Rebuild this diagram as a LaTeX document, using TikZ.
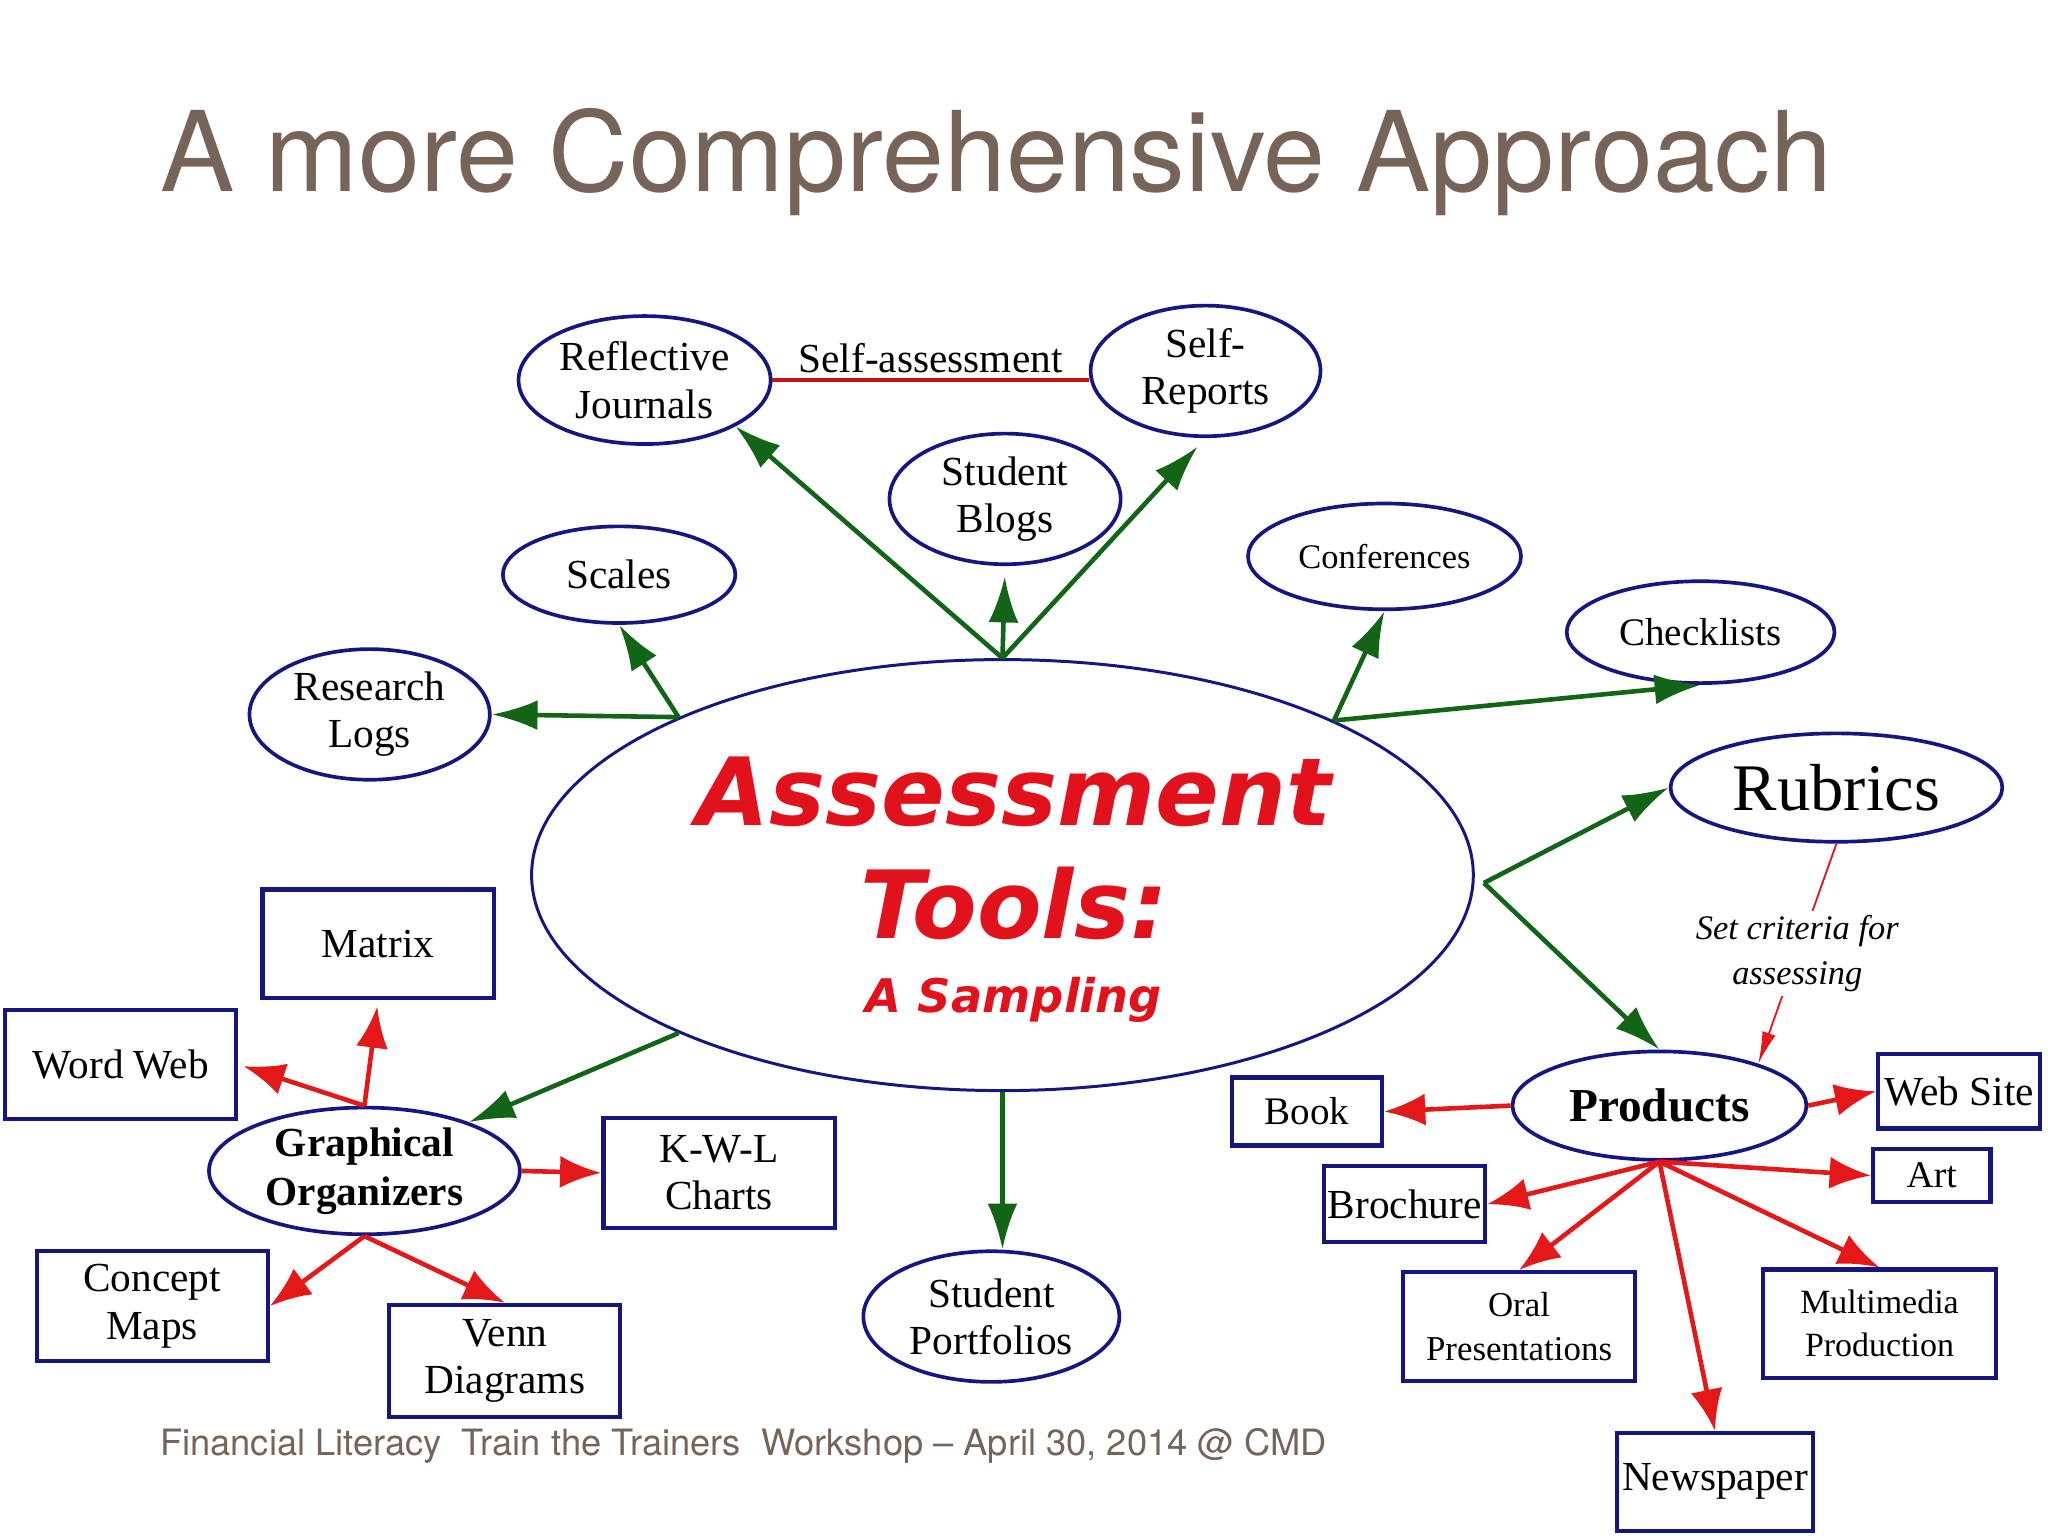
\documentclass[tikz,border=0pt]{standalone}
\usepackage{fontspec}
\setmainfont{Liberation Serif}
\newfontfamily\slidefont[Ligatures=TeX]{TeX Gyre Heros}
\newfontfamily\toolfont{DejaVu Sans}
\usetikzlibrary{shapes.geometric,arrows.meta}
\definecolor{ovalblue}{RGB}{22,22,130}
\definecolor{leafgreen}{RGB}{18,100,22}
\definecolor{arrowred}{RGB}{228,24,24}
\definecolor{slidebrown}{RGB}{118,100,88}
\definecolor{toolred}{RGB}{226,18,28}
\begin{document}
\begin{tikzpicture}[
    oval/.style={ellipse, draw=ovalblue, line width=0.8pt, inner sep=0pt, align=center, font=\fontsize{9}{10.3}\selectfont},
    box/.style={rectangle, draw=ovalblue, line width=0.9pt, inner sep=0pt, align=center, font=\fontsize{9}{10.3}\selectfont},
    grarrow/.style={draw=leafgreen, line width=1pt, -{Latex[length=10pt,width=6.5pt]}},
    rdarrow/.style={draw=arrowred, line width=1pt, -{Latex[length=9pt,width=7pt]}}
  ]
  \useasboundingbox (0,0) rectangle (15.68,-11.76);

  \node[anchor=base west, inner sep=0pt, text=slidebrown, font=\slidefont\fontsize{24.25}{28}\selectfont] (title) at (1.22,-1.47) {A more Comprehensive Approach};

  \node[ellipse, draw=ovalblue, line width=0.65pt, minimum width=7.21cm, minimum height=3.30cm, inner sep=0pt, align=center, text=toolred, font=\toolfont\bfseries\itshape\fontsize{20.5}{24.5}\selectfont] (main) at (7.675,-6.70)
    {\hspace{5pt}\rule{0pt}{21.3pt}Assessment\\\hspace{5pt}Tools:\\[-8.3pt]{\fontsize{10.1}{12}\selectfont\hspace{5pt}A Sampling}};

  \node[oval, minimum width=1.93cm, minimum height=0.98cm] (refl) at (4.935,-2.91) {Reflective\\Journals};
  \node[oval, minimum width=1.76cm, minimum height=1.00cm] (selfrep) at (9.23,-2.84) {Self-\\Reports};
  \node[oval, minimum width=1.77cm, minimum height=1.00cm] (blogs) at (7.695,-3.82) {Student\\Blogs};
  \node[oval, minimum width=1.78cm, minimum height=0.74cm] (scales) at (4.74,-4.40) {Scales};
  \node[oval, minimum width=1.84cm, minimum height=1.00cm] (logs) at (2.83,-5.47) {Research\\Logs};
  \node[oval, minimum width=2.09cm, minimum height=0.81cm, font=\fontsize{7.5}{9}\selectfont] (conf) at (10.60,-4.26) {Conferences};
  \node[oval, minimum width=2.05cm, minimum height=0.78cm, font=\fontsize{8.5}{10}\selectfont] (check) at (13.02,-4.84) {Checklists};
  \node[oval, minimum width=2.54cm, minimum height=0.83cm, font=\fontsize{14.5}{16}\selectfont] (rubrics) at (14.06,-6.03) {Rubrics};
  \node[oval, minimum width=2.38cm, minimum height=0.97cm, font=\bfseries\fontsize{9}{10.6}\selectfont] (graph) at (2.79,-8.965) {Graphical\\Organizers};
  \node[oval, minimum width=1.96cm, minimum height=1.00cm] (portf) at (7.59,-10.08) {Student\\Portfolios};
  \node[oval, minimum width=2.25cm, minimum height=0.83cm, font=\bfseries\fontsize{10.3}{12}\selectfont] (prod) at (12.705,-8.465) {Products};

  \node[box, minimum width=1.77cm, minimum height=0.83cm] (matrix) at (2.895,-7.225) {Matrix};
  \node[box, minimum width=1.77cm, minimum height=0.84cm] (wordweb) at (0.925,-8.15) {Word Web};
  \node[box, minimum width=1.77cm, minimum height=0.84cm] (kwl) at (5.505,-8.98) {K-W-L\\Charts};
  \node[box, minimum width=1.77cm, minimum height=0.84cm] (concept) at (1.165,-10.0) {Concept\\Maps};
  \node[box, minimum width=1.77cm, minimum height=0.86cm] (venn) at (3.865,-10.42) {Venn\\Diagrams};
  \node[box, minimum width=1.15cm, minimum height=0.52cm, font=\fontsize{8.5}{10}\selectfont] (book) at (10.005,-8.51) {Book};
  \node[box, minimum width=1.24cm, minimum height=0.57cm] (website) at (15.00,-8.355) {Web Site};
  \node[box, minimum width=1.23cm, minimum height=0.58cm] (brochure) at (10.755,-9.22) {Brochure};
  \node[box, minimum width=0.90cm, minimum height=0.40cm, font=\fontsize{8.2}{10}\selectfont] (art) at (14.79,-9.00) {Art};
  \node[box, minimum width=1.78cm, minimum height=0.83cm, font=\fontsize{7.6}{9.6}\selectfont] (oral) at (11.63,-10.155) {Oral\\Presentations};
  \node[box, minimum width=1.78cm, minimum height=0.83cm, font=\fontsize{7.4}{9.4}\selectfont] (multi) at (14.39,-10.135) {Multimedia\\Production};
  \node[box, minimum width=1.50cm, minimum height=0.75cm] (news) at (13.13,-11.345) {Newspaper};

  \draw[arrowred!85!black, line width=1pt] (refl.east) -- node[above, inner sep=1pt, text=black, font=\fontsize{9}{10}\selectfont] (selfass) {Self-assessment} (refl.east -| selfrep.west);

  \draw[grarrow] (main.north) -- (refl.-27);
  \draw[grarrow, shorten >=0.08cm] (main.north) -- (blogs.south);
  \draw[grarrow, shorten >=0.09cm] (main.north) -- (selfrep.south);
  \draw[grarrow] (main.154) -- (scales.south);
  \draw[grarrow] (main.154) -- (logs.east);
  \draw[grarrow] (main.25) -- (conf.south);
  \draw[grarrow] (main.25) -- (check.south);
  \coordinate (rfork) at ([xshift=0.07cm,yshift=-0.06cm]main.east);
  \draw[grarrow] (rfork) -- (rubrics.west);
  \draw[grarrow] (rfork) -- (prod.north);
  \draw[grarrow] (main.206) -- (graph.25);
  \draw[grarrow] (main.south) -- (main.south |- portf.north);

  \draw[rdarrow, shorten >=0.05cm] (graph.north) -- (matrix.south);
  \draw[rdarrow, shorten >=0.04cm] (graph.north) -- (wordweb.east);
  \draw[rdarrow] (graph.east) -- (kwl.west);
  \draw[rdarrow] (graph.south) -- (concept.east);
  \draw[rdarrow] (graph.south) -- (venn.north);

  \draw[rdarrow] (prod.west) -- (book.east);
  \draw[rdarrow] (prod.east) -- (website.west);
  \draw[rdarrow] (prod.south) -- (brochure.east);
  \draw[rdarrow] (prod.south) -- (art.west);
  \draw[rdarrow] (prod.south) -- (oral.north);
  \draw[rdarrow] (prod.south) -- (multi.north);
  \draw[rdarrow] (prod.south) -- (news.north);

  \draw[arrowred, line width=0.4pt, -{Latex[length=7pt,width=3pt]}] (rubrics.south) -- node[fill=white, inner sep=1pt, align=center, text=black, font=\itshape\fontsize{7.5}{9.7}\selectfont] (crit) {Set criteria for\\assessing} (prod.23);

  \node[anchor=base west, inner sep=0pt, text=slidebrown, font=\slidefont\fontsize{7.9}{9}\selectfont] (footer) at (1.22,-11.14) {Financial Literacy\ \ Train the Trainers\ \ Workshop -- April 30, 2014 @ CMD};
\end{tikzpicture}
\end{document}
